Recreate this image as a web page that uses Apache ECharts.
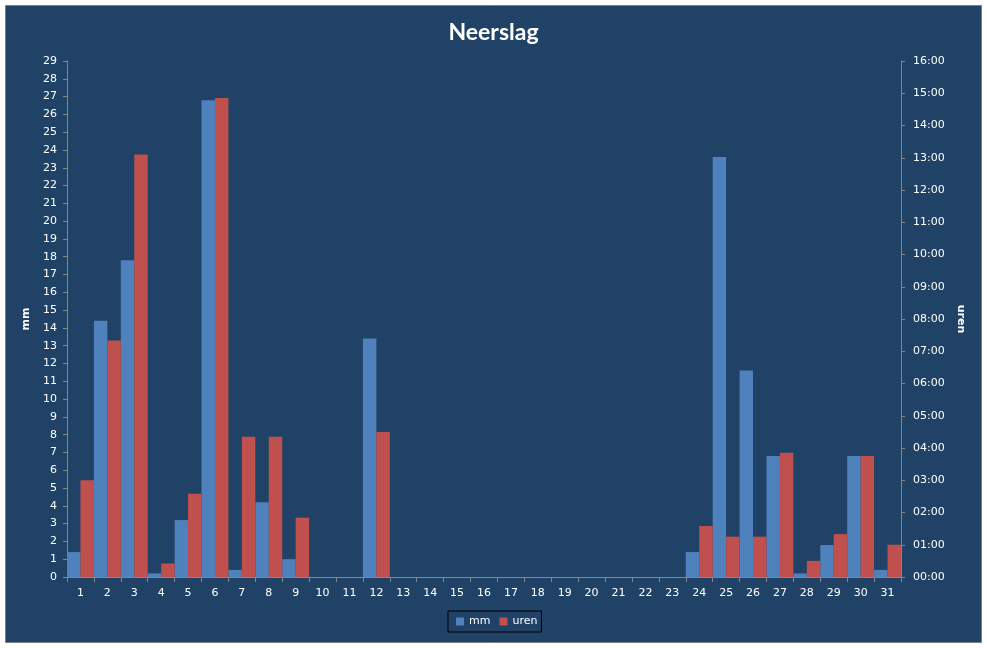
<!DOCTYPE html>
<html>
<head>
<meta charset="utf-8">
<title>Neerslag</title>
<script src="https://cdn.jsdelivr.net/npm/echarts@6/dist/echarts.min.js"></script>
<style>
    html, body { margin: 0; padding: 0; background: #fff; }
    #main { width: 987px; height: 648px; }
</style>
</head>
<body>
<div id="main"></div>
<script>
// dagen van de maand
var dagen = ['1', '2', '3', '4', '5', '6', '7', '8', '9', '10', '11', '12', '13', '14', '15', '16',
    '17', '18', '19', '20', '21', '22', '23', '24', '25', '26', '27', '28', '29', '30', '31'];

// neerslag in mm
var mm = [1.4, 14.4, 17.8, 0.2, 3.2, 26.8, 0.4, 4.2, 1.0, 0, 0, 13.4, 0, 0, 0, 0,
    0, 0, 0, 0, 0, 0, 0, 1.4, 23.6, 11.6, 6.8, 0.2, 1.8, 6.8, 0.4];

// duur van de neerslag in uren
var uren = [3.0, 7.33, 13.1, 0.42, 2.58, 14.85, 4.35, 4.35, 1.84, 0, 0, 4.5, 0, 0, 0, 0,
    0, 0, 0, 0, 0, 0, 0, 1.58, 1.25, 1.25, 3.85, 0.5, 1.33, 3.75, 1.0];

var myChart = echarts.init(document.getElementById('main'));

var labelFont = {
    color: '#ffffff',
    fontFamily: 'DejaVu Sans',
    fontSize: 11
};

function uurLabel(v) {
    var h = Math.round(v);
    return (h < 10 ? '0' + h : h) + ':00';
}

var option = {
    backgroundColor: '#ffffff',
    animation: false,
    // achtergrond van het diagram met rand
    graphic: [{
        type: 'rect',
        z: -100,
        silent: true,
        shape: { x: 5.5, y: 5.5, width: 976, height: 637 },
        style: { fill: '#1f4266', stroke: '#7f7f7f', lineWidth: 1 }
    }],
    title: {
        text: 'Neerslag',
        left: 'center',
        top: 16,
        textStyle: {
            color: '#ffffff',
            fontFamily: 'Lato',
            fontWeight: 'bold',
            fontSize: 23
        }
    },
    legend: {
        data: ['mm', 'uren'],
        left: 448,
        top: 611,
        padding: [5, 4, 5, 8],
        itemWidth: 8,
        itemHeight: 8,
        itemGap: 9,
        borderColor: '#000000',
        borderWidth: 1,
        icon: 'rect',
        textStyle: labelFont
    },
    grid: {
        left: 67,
        right: 86,
        top: 61,
        bottom: 71
    },
    xAxis: {
        type: 'category',
        data: dagen,
        axisLine: { lineStyle: { color: '#868686' } },
        axisTick: { show: true, length: 5, lineStyle: { color: '#868686' } },
        axisLabel: Object.assign({ margin: 11, interval: 0 }, labelFont),
        splitLine: { show: false }
    },
    yAxis: [
        {
            type: 'value',
            name: 'mm',
            nameLocation: 'middle',
            nameGap: 29,
            nameTextStyle: { color: '#ffffff', fontFamily: 'DejaVu Sans', fontWeight: 'bold', fontSize: 11 },
            min: 0,
            max: 29,
            interval: 1,
            axisLine: { show: true, lineStyle: { color: '#868686' } },
            axisTick: { show: true, length: 4, lineStyle: { color: '#868686' } },
            axisLabel: Object.assign({ margin: 10 }, labelFont),
            splitLine: { show: false }
        },
        {
            type: 'value',
            name: 'uren',
            nameLocation: 'middle',
            nameGap: 45,
            nameRotate: -90,
            nameTextStyle: { color: '#ffffff', fontFamily: 'DejaVu Sans', fontWeight: 'bold', fontSize: 11 },
            position: 'right',
            min: 0,
            max: 16,
            interval: 1,
            axisLine: { show: true, lineStyle: { color: '#868686' } },
            axisTick: { show: true, length: 4, lineStyle: { color: '#868686' } },
            axisLabel: Object.assign({ margin: 12, formatter: uurLabel }, labelFont),
            splitLine: { show: false }
        }
    ],
    series: [
        {
            name: 'mm',
            type: 'bar',
            yAxisIndex: 0,
            barGap: '0%',
            barCategoryGap: '0%',
            itemStyle: { color: '#4f81bd' },
            data: mm
        },
        {
            name: 'uren',
            type: 'bar',
            yAxisIndex: 1,
            barGap: '0%',
            barCategoryGap: '0%',
            itemStyle: { color: '#c0504d' },
            data: uren
        }
    ]
};

myChart.setOption(option);
window.onresize = myChart.resize;
</script>
</body>
</html>
